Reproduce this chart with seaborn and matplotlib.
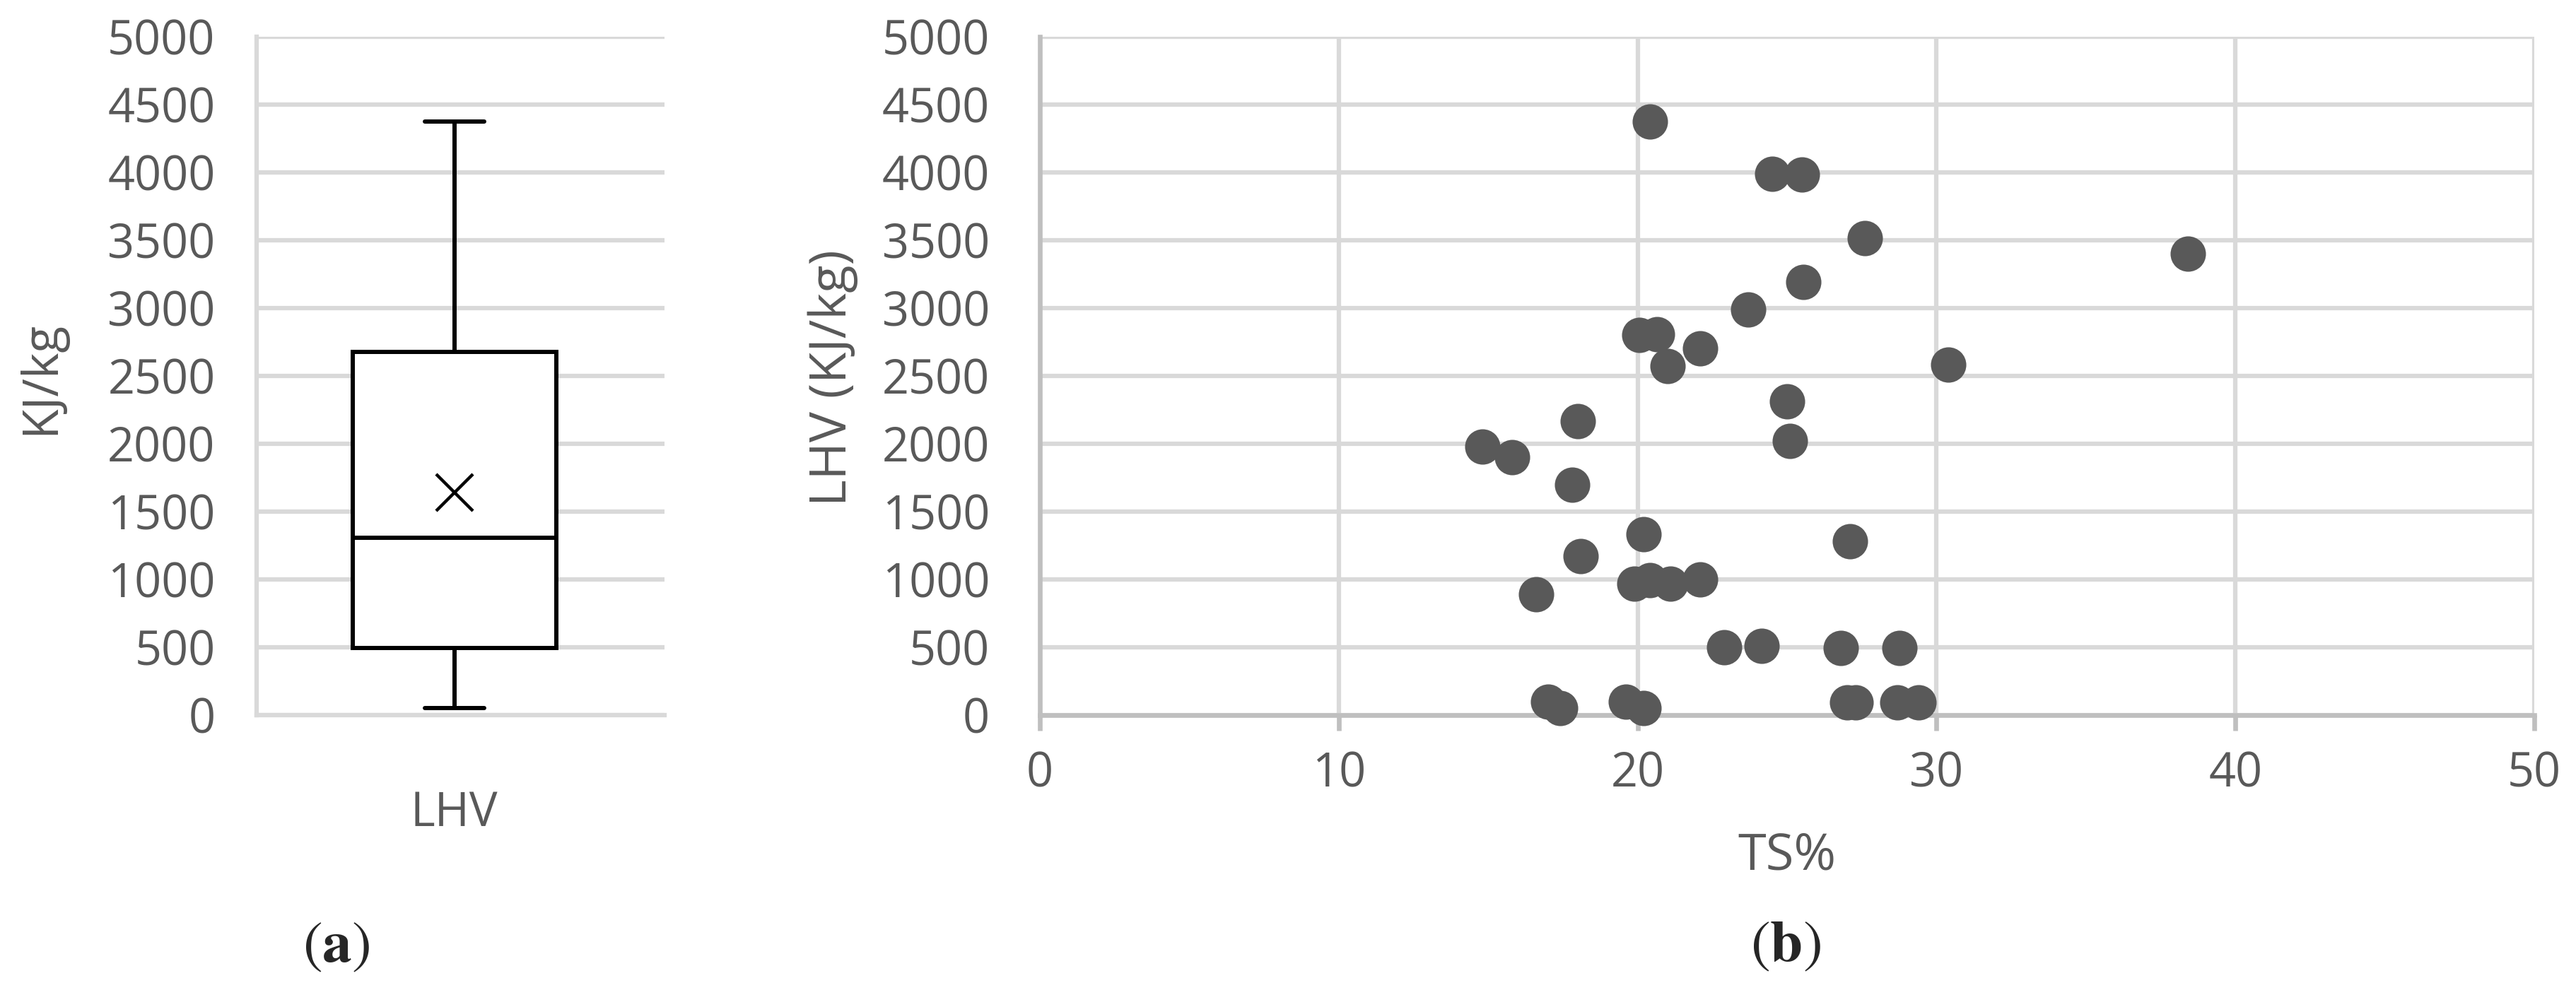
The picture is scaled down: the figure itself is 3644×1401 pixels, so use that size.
import matplotlib
matplotlib.use("Agg")
import matplotlib.pyplot as plt
import seaborn as sns

# TS% and LHV (KJ/kg) for each sample
ts_pct = [20.4, 24.5, 25.5, 27.6, 38.4, 25.55, 23.7, 20.05, 20.65, 22.1,
          21.0, 30.4, 25.0, 25.1, 18.0, 14.8, 15.8, 17.8, 20.2, 27.1,
          18.1, 16.6, 19.9, 20.4, 21.1, 22.1, 22.9, 24.15, 26.8, 28.75,
          17.0, 17.4, 19.6, 20.2, 27.0, 27.3, 28.7, 29.4]
lhv = [4375, 3990, 3985, 3515, 3400, 3190, 2990, 2800, 2805, 2705,
       2575, 2585, 2310, 2020, 2165, 1980, 1900, 1700, 1335, 1280,
       1170, 890, 970, 995, 970, 1000, 500, 510, 495, 495,
       100, 50, 100, 50, 95, 95, 95, 95]

y_ticks = list(range(0, 5001, 500))
x_ticks = [0, 10, 20, 30, 40, 50]

TXT = "#595959"
GRID = "#D9D9D9"
AXIS = "#BFBFBF"

sns.set_style("white")
plt.rcParams["font.family"] = ["Open Sans", "DejaVu Sans"]
plt.rcParams["mathtext.fontset"] = "stix"

fig = plt.figure(figsize=(36.44, 14.01), dpi=100)
ax_a = fig.add_axes([0.0996, 0.2777, 0.1583, 0.6852])
ax_b = fig.add_axes([0.4037, 0.2777, 0.5801, 0.6852])

# ---- (a) box plot ----
sns.boxplot(y=lhv, ax=ax_a, width=0.5, color="white", linecolor="black",
            linewidth=4.3, showmeans=True, capwidths=0.145,
            meanprops=dict(marker="x", markeredgecolor="black",
                           markersize=38, markeredgewidth=3.2))
ax_a.set_xlim(-0.485, 0.515)
ax_a.set_ylim(0, 5000)
ax_a.set_yticks(y_ticks)
ax_a.set_xticks([0])
ax_a.set_xticklabels(["LHV"])
ax_a.grid(axis="y", color=GRID, linewidth=4.5)
ax_a.set_axisbelow(True)
for s in ["top", "right"]:
    ax_a.spines[s].set_visible(False)
for s in ["left", "bottom"]:
    ax_a.spines[s].set_color(GRID)
    ax_a.spines[s].set_linewidth(4.5)
ax_a.tick_params(axis="y", length=0, pad=42, labelsize=48, labelcolor=TXT)
ax_a.tick_params(axis="x", length=0, pad=76, labelsize=48, labelcolor=TXT)
ax_a.set_ylabel("KJ/kg", fontsize=50, color=TXT)
ax_a.yaxis.label.set_va("center")
ax_a.yaxis.set_label_coords(-0.529, 0.497)

# ---- (b) scatter ----
sns.scatterplot(x=ts_pct, y=lhv, ax=ax_b, s=1300, color="#595959",
                linewidth=0, clip_on=False, zorder=4)
ax_b.set_xlim(0, 50)
ax_b.set_ylim(0, 5000)
ax_b.set_xticks(x_ticks)
ax_b.set_yticks(y_ticks)
ax_b.grid(True, color=GRID, linewidth=4.5)
ax_b.set_axisbelow(True)
for s in ["top", "right"]:
    ax_b.spines[s].set_visible(False)
for s in ["left", "bottom"]:
    ax_b.spines[s].set_color(AXIS)
    ax_b.spines[s].set_linewidth(4.8)
ax_b.tick_params(axis="y", length=0, pad=51, labelsize=48, labelcolor=TXT)
ax_b.tick_params(axis="x", direction="out", length=16, width=4.8, color=AXIS,
                 pad=20, labelsize=48, labelcolor=TXT, bottom=True)
ax_b.set_xlabel("TS%", fontsize=52, color=TXT)
ax_b.xaxis.label.set_va("center")
ax_b.xaxis.set_label_coords(0.5, -0.208)
ax_b.set_ylabel("LHV (KJ/kg)", fontsize=52, color=TXT)
ax_b.yaxis.label.set_va("center")
ax_b.yaxis.set_label_coords(-0.1386, 0.497)

fig.text(0.1306, 0.0435, r"$(\mathbf{a})$", fontsize=60, ha="center", va="center")
fig.text(0.6932, 0.0443, r"$(\mathbf{b})$", fontsize=60, ha="center", va="center")

fig.savefig("out.png", dpi=100, facecolor="white")
